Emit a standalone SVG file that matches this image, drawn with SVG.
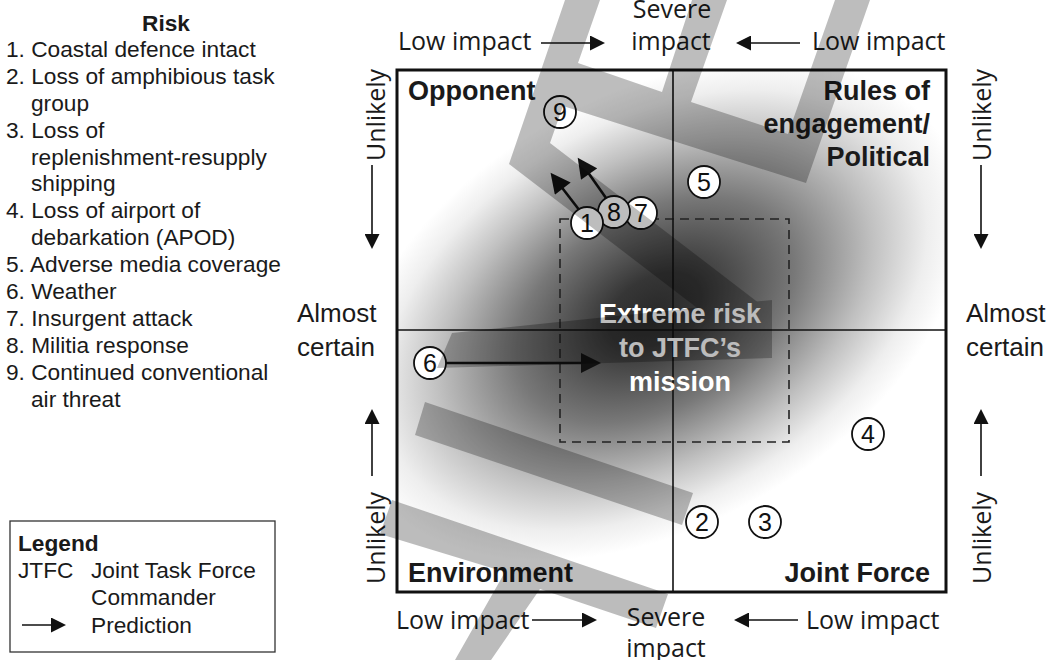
<svg xmlns="http://www.w3.org/2000/svg" width="1051" height="660" viewBox="0 0 1051 660">
<defs>
  <radialGradient id="risk" gradientUnits="userSpaceOnUse" cx="0" cy="0" r="1" gradientTransform="translate(655,310) rotate(-30) scale(335,215)">
    <stop offset="0" stop-color="#2a2a2a"/>
    <stop offset="0.15" stop-color="#363636"/>
    <stop offset="0.45" stop-color="#787878"/>
    <stop offset="0.7" stop-color="#c0c0c0"/>
    <stop offset="0.88" stop-color="#eeeeee"/>
    <stop offset="1" stop-color="#ffffff"/>
  </radialGradient>
  <marker id="axh" viewBox="0 0 10 10" markerUnits="userSpaceOnUse" markerWidth="17" markerHeight="15" refX="8" refY="5" orient="auto">
    <path d="M0,0 L10,5 L0,10 z" fill="#111"/>
  </marker>
  <marker id="prh" viewBox="0 0 10 10" markerUnits="userSpaceOnUse" markerWidth="21" markerHeight="20" refX="8" refY="5" orient="auto">
    <path d="M0,0 L10,5 L0,10 z" fill="#111"/>
  </marker>
</defs>
<style>
  .t { font-family: "Liberation Sans", Arial, sans-serif; fill: #1a1a1a; }
  .list { font-size: 22.7px; }
  .big { font-size: 26px; }
  .b { font-weight: bold; }
  .m { font-family: "Open Sans", "Liberation Sans", sans-serif; font-size: 25px; fill: #1a1a1a; }
  .q { font-family: "Liberation Sans", Arial, sans-serif; font-size: 27px; font-weight: bold; fill: #1a1a1a; }
  .ext { font-family: "Liberation Sans", Arial, sans-serif; font-size: 27px; font-weight: bold; fill: #ffffff; text-anchor: middle; }
  .ax { stroke: #111; stroke-width: 1.6; fill: none; marker-end: url(#axh); }
  .pr { stroke: #111; stroke-width: 2.6; fill: none; marker-end: url(#prh); }
  .node circle { fill: #ffffff; stroke: #111; stroke-width: 1.8; }
  .node text { font-family: "Liberation Sans", Arial, sans-serif; font-size: 25px; fill: #111; text-anchor: middle; }
</style>
<rect width="1051" height="660" fill="#ffffff"/>

<!-- risk list -->
<g id="risk-list" class="t list">
  <text x="166" y="31" class="b" text-anchor="middle">Risk</text>
  <text x="6" y="57">1. Coastal defence intact</text>
  <text x="6" y="84">2. Loss of amphibious task</text>
  <text x="31" y="111">group</text>
  <text x="6" y="138">3. Loss of</text>
  <text x="31" y="165">replenishment-resupply</text>
  <text x="31" y="191">shipping</text>
  <text x="6" y="218">4. Loss of airport of</text>
  <text x="31" y="245">debarkation (APOD)</text>
  <text x="6" y="272">5. Adverse media coverage</text>
  <text x="6" y="299">6. Weather</text>
  <text x="6" y="326">7. Insurgent attack</text>
  <text x="6" y="353">8. Militia response</text>
  <text x="6" y="380">9. Continued conventional</text>
  <text x="31" y="407">air threat</text>
</g>

<!-- legend -->
<g id="legend" class="t list">
  <rect x="10" y="521" width="265" height="131" fill="none" stroke="#333" stroke-width="1.3"/>
  <text x="18" y="551" class="b">Legend</text>
  <text x="18" y="578">JTFC</text>
  <text x="91" y="578">Joint Task Force</text>
  <text x="91" y="605">Commander</text>
  <line x1="22" y1="625" x2="63" y2="625" class="ax"/>
  <text x="91" y="633">Prediction</text>
</g>

<!-- matrix -->
<g id="matrix">
  <rect x="397" y="70" width="549" height="522" fill="url(#risk)"/>
  <rect x="560" y="219" width="229" height="223" fill="none" stroke="#222" stroke-width="1.6" stroke-dasharray="9 6"/>
  <line x1="673" y1="70" x2="673" y2="592" stroke="#111" stroke-width="1.6"/>
  <line x1="397" y1="330" x2="946" y2="330" stroke="#111" stroke-width="1.6"/>
  <rect x="397" y="70" width="549" height="522" fill="none" stroke="#111" stroke-width="3"/>
</g>

<!-- quadrant labels -->
<g id="quadrant-labels">
  <text x="408" y="100" class="q">Opponent</text>
  <text x="930" y="100" class="q" text-anchor="end">Rules of</text>
  <text x="930" y="133" class="q" text-anchor="end">engagement/</text>
  <text x="930" y="166" class="q" text-anchor="end">Political</text>
  <text x="408" y="582" class="q">Environment</text>
  <text x="930" y="582" class="q" text-anchor="end">Joint Force</text>
  <text class="ext" x="680" y="323">Extreme risk</text>
  <text class="ext" x="680" y="357">to JTFC’s</text>
  <text class="ext" x="680" y="391">mission</text>
</g>

<!-- axis labels -->
<g id="axis-labels">
  <text x="398" y="50" class="m">Low impact</text>
  <line x1="541" y1="43" x2="602" y2="43" class="ax"/>
  <text x="672" y="18" class="m" text-anchor="middle">Severe</text>
  <text x="671" y="50" class="m" text-anchor="middle">impact</text>
  <line x1="800" y1="43" x2="739" y2="43" class="ax"/>
  <text x="812" y="50" class="m">Low impact</text>

  <text x="396" y="629" class="m">Low impact</text>
  <line x1="532" y1="620" x2="594" y2="620" class="ax"/>
  <text x="666" y="626" class="m" text-anchor="middle">Severe</text>
  <text x="666" y="657" class="m" text-anchor="middle">impact</text>
  <line x1="798" y1="620" x2="737" y2="620" class="ax"/>
  <text x="806" y="629" class="m">Low impact</text>

  <text class="m" transform="translate(385,115) rotate(-90)" text-anchor="middle">Unlikely</text>
  <line x1="372" y1="165" x2="372" y2="246" class="ax"/>
  <text x="297" y="322" class="t big">Almost</text>
  <text x="297" y="356" class="t big">certain</text>
  <line x1="372" y1="476" x2="372" y2="412" class="ax"/>
  <text class="m" transform="translate(385,538) rotate(-90)" text-anchor="middle">Unlikely</text>

  <text class="m" transform="translate(991,115) rotate(-90)" text-anchor="middle">Unlikely</text>
  <line x1="981" y1="165" x2="981" y2="246" class="ax"/>
  <text x="966" y="322" class="t big">Almost</text>
  <text x="966" y="356" class="t big">certain</text>
  <line x1="981" y1="476" x2="981" y2="412" class="ax"/>
  <text class="m" transform="translate(991,538) rotate(-90)" text-anchor="middle">Unlikely</text>
</g>

<!-- connectors (prediction arrows) -->
<g id="connectors">
  <line x1="580" y1="211" x2="553" y2="176" class="pr"/>
  <line x1="606" y1="198" x2="580" y2="161" class="pr"/>
  <line x1="446" y1="363" x2="597" y2="363" class="pr"/>
</g>

<!-- risk nodes -->
<g id="n9" class="node"><circle cx="560" cy="112" r="16"/><text x="560" y="121">9</text></g>
<g id="n5" class="node"><circle cx="704" cy="182" r="16"/><text x="704" y="191">5</text></g>
<g id="n7" class="node"><circle cx="641" cy="213" r="16"/><text x="641" y="222">7</text></g>
<g id="n8" class="node"><circle cx="614" cy="212" r="16"/><text x="614" y="221">8</text></g>
<g id="n1" class="node"><circle cx="587" cy="223" r="16"/><text x="587" y="232">1</text></g>
<g id="n6" class="node"><circle cx="430" cy="363" r="16"/><text x="430" y="372">6</text></g>
<g id="n4" class="node"><circle cx="868" cy="434" r="16"/><text x="868" y="443">4</text></g>
<g id="n2" class="node"><circle cx="702" cy="522" r="16"/><text x="702" y="531">2</text></g>
<g id="n3" class="node"><circle cx="765" cy="522" r="16"/><text x="765" y="531">3</text></g>

<!-- translucent watermark bars -->
<g id="watermark" opacity="0.26" fill="#000">
  <polygon points="565,0 600,0 578,63 662,92 692,0 727,0 691,102 788,134 835,0 870,0 806,183 563,106 550,143 768,310 743,343 509,164"/>
  <polygon points="452,333 772,300 772,358 437,368"/>
  <polygon points="425,402 693,493 682,525 415,435"/>
  <polygon points="392,500 668,594 656,628 540,589 491,660 455,660 505,572 380,534"/>
</g>
</svg>
